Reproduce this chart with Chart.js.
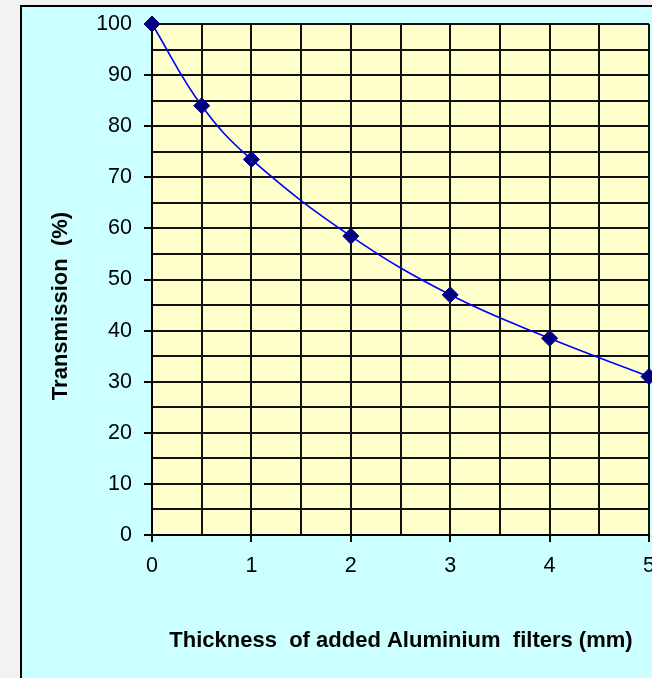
<!DOCTYPE html>
<html>
<head>
<meta charset="utf-8">
<title>Transmission vs aluminium filter thickness</title>
<script src="https://cdn.jsdelivr.net/npm/chart.js@4/dist/chart.umd.min.js"></script>
<style>
  html, body { margin: 0; padding: 0; background: #f2f2f2; overflow: hidden; }
  #wrap { position: relative; width: 652px; height: 678px; }
</style>
</head>
<body>
<div id="wrap"><canvas id="transChart" width="652" height="678"></canvas></div>
<script>
// data
const thickness = [0, 0.5, 1, 2, 3, 4, 5];              // mm of added Al
const transmission = [100, 84, 73.5, 58.5, 47, 38.5, 31]; // %

const xTitle = 'Thickness  of added Aluminium  filters (mm)';
const yTitle = 'Transmission  (%)';

const FONT = '"Liberation Sans", Arial, sans-serif';

// excel-ish frame: cyan box with black edge, pale yellow plot area
const frame = {
    id: 'frame',
    beforeDraw(chart) {
        const c = chart.ctx;
        const a = chart.chartArea;
        c.save();
        c.fillStyle = '#f2f2f2';
        c.fillRect(0, 0, chart.width, chart.height);
        c.fillStyle = '#ccffff';
        c.fillRect(21, 6, chart.width, chart.height);
        c.strokeStyle = '#000';
        c.lineWidth = 2;
        c.strokeRect(21, 6, chart.width + 10, chart.height + 10);
        c.fillStyle = '#ffffcc';
        c.fillRect(a.left, a.top, a.right - a.left, a.bottom - a.top);
        c.restore();
    },
    afterDraw(chart) {
        // axis titles sit off-centre in the original, so draw them here
        const c = chart.ctx;
        c.save();
        c.fillStyle = '#000';
        c.font = 'bold 22px ' + FONT;
        c.textAlign = 'center';
        c.textBaseline = 'middle';
        c.fillText(xTitle, 401, 641);
        c.translate(61, 306);
        c.rotate(-Math.PI / 2);
        c.fillText(yTitle, 0, 0);
        c.restore();
    }
};

const ctx = document.getElementById('transChart').getContext('2d');
const transChart = new Chart(ctx, {
    type: 'line',
    data: {
        datasets: [{
            label: 'Transmission (%)',
            data: thickness.map((t, i) => ({ x: t, y: transmission[i] })),
            borderColor: '#0000ff',
            borderWidth: 1.6,
            tension: 0.4,
            pointStyle: 'rectRot',
            pointRadius: 8,
            pointBorderWidth: 1,
            pointBackgroundColor: '#000080',
            pointBorderColor: '#000080',
            clip: false
        }]
    },
    options: {
        responsive: false,
        animation: false,
        events: [],
        layout: { autoPadding: false, padding: { left: 0, top: 24, right: 3, bottom: 0 } },
        plugins: {
            legend: { display: false },
            tooltip: { enabled: false }
        },
        scales: {
            x: {
                type: 'linear',
                min: 0,
                max: 5,
                afterBuildTicks: s => {
                    s.ticks = [];
                    for (let v = 0; v <= 10; v++) s.ticks.push({ value: v / 2 });
                },
                afterFit: s => {
                    s.height = 678 - 535;
                    s.paddingLeft = 0;
                    s.paddingRight = 0;
                },
                border: { color: '#000', width: 2 },
                grid: {
                    color: '#111',
                    lineWidth: 2,
                    tickLength: 7,
                    tickWidth: 2,
                    tickColor: c => (c.tick && Number.isInteger(c.tick.value)) ? '#000' : 'rgba(0,0,0,0)'
                },
                ticks: {
                    autoSkip: false,
                    maxRotation: 0,
                    padding: 11,
                    color: '#000',
                    font: { family: FONT, size: 21.5 },
                    callback: v => Number.isInteger(v) ? v : ''
                }
            },
            y: {
                min: 0,
                max: 100,
                afterBuildTicks: s => {
                    s.ticks = [];
                    for (let v = 0; v <= 100; v += 5) s.ticks.push({ value: v });
                },
                afterFit: s => {
                    s.width = 152;
                    s.paddingTop = 0;
                    s.paddingBottom = 0;
                },
                border: { color: '#000', width: 2 },
                grid: {
                    color: '#111',
                    lineWidth: 2,
                    tickLength: 8,
                    tickWidth: 2,
                    tickColor: c => (c.tick && c.tick.value % 10 === 0) ? '#000' : 'rgba(0,0,0,0)'
                },
                ticks: {
                    autoSkip: false,
                    padding: 12,
                    color: '#000',
                    font: { family: FONT, size: 21.5 },
                    callback: v => v % 10 === 0 ? v : ''
                }
            }
        }
    },
    plugins: [frame]
});
</script>
</body>
</html>
